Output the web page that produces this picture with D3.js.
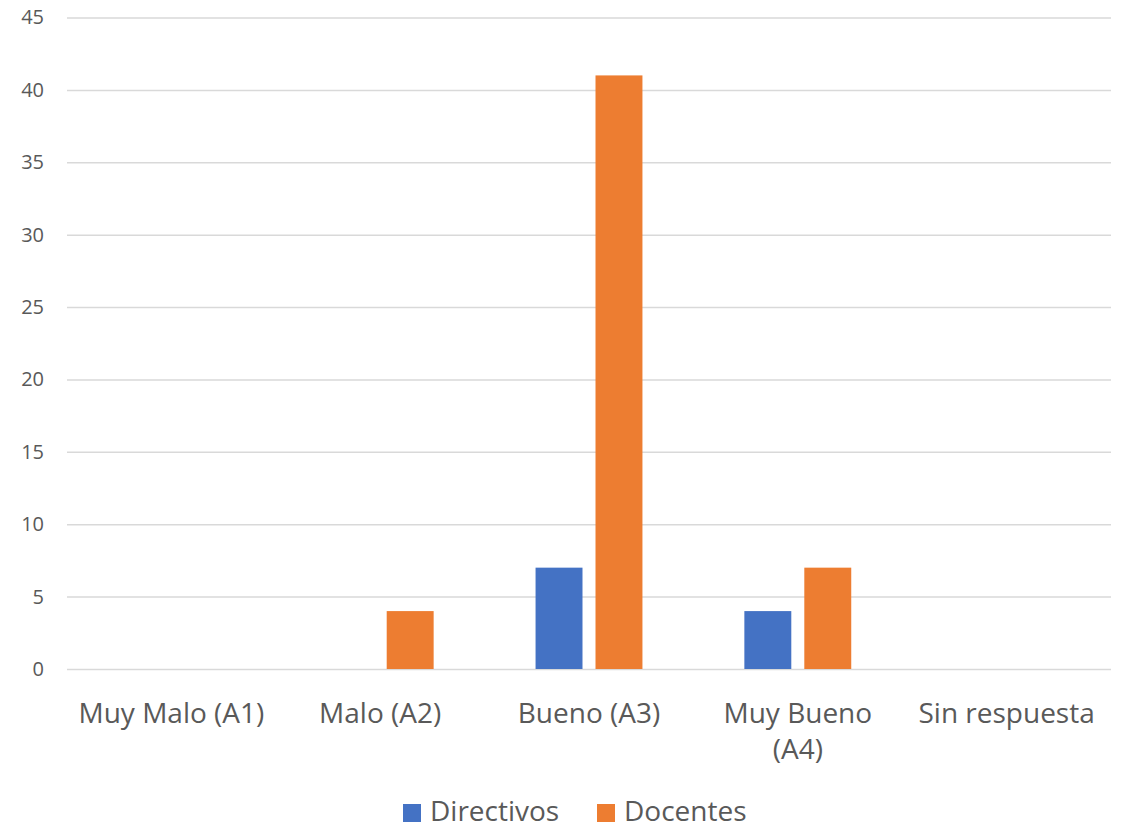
<!DOCTYPE html>
<html><head><meta charset="utf-8">
<script src="https://cdn.jsdelivr.net/npm/d3@7"></script>
<style>body{margin:0;background:#fff}svg{display:block}</style>
</head><body>
<svg id="c" width="1125" height="830"></svg>
<script>
const categories = ["Muy Malo (A1)", "Malo (A2)", "Bueno (A3)", "Muy Bueno (A4)", "Sin respuesta"];
const seriesNames = ["Directivos", "Docentes"];
const directivos = [0, 0, 7, 4, 0];
const docentes = [0, 4, 41, 7, 0];
const yTicks = [0, 5, 10, 15, 20, 25, 30, 35, 40, 45];
const colors = ["#4472C4", "#ED7D31"];

const svg = d3.select("#c");
const font = "'Open Sans', sans-serif";
const m = {l: 67, r: 1111, t: 17.5, b: 669};
const x = d3.scaleBand().domain(categories).range([m.l, m.r]);
const x1 = d3.scaleBand().domain(seriesNames).range([0, x.bandwidth()]).paddingInner(0.217).paddingOuter(0.85);
const y = d3.scaleLinear().domain([0, 45]).range([m.b, m.t]);

const yAxis = d3.axisLeft(y).tickValues(yTicks).tickSize(-(m.r - m.l)).tickPadding(23);
const gy = svg.append("g").attr("transform", `translate(${m.l},0)`).call(yAxis);
gy.select(".domain").remove();
gy.selectAll(".tick line").attr("stroke", "#d9d9d9").attr("stroke-width", 1.5);
gy.selectAll(".tick text").attr("fill", "#595959").style("font-family", font).style("font-size", "20px");

const data = categories.map((c, i) => ({c, vals: [directivos[i], docentes[i]]}));
const g = svg.append("g");
data.forEach(d => {
  d.vals.forEach((v, j) => {
    if (v <= 0) return;
    g.append("rect")
      .attr("x", x(d.c) + x1(seriesNames[j]))
      .attr("width", x1.bandwidth())
      .attr("y", y(v))
      .attr("height", y(0) - y(v))
      .attr("fill", colors[j]);
  });
});

const xAxis = d3.axisBottom(x).tickSize(0).tickPadding(0);
const gx = svg.append("g").attr("transform", `translate(0,${m.b})`).call(xAxis);
gx.select(".domain").remove();
gx.selectAll(".tick text").remove();
gx.selectAll(".tick").each(function(d) {
  const t = d3.select(this).append("text").attr("fill", "#595959").attr("text-anchor", "middle")
    .style("font-family", font).style("font-size", "28px");
  const lines = d === "Muy Bueno (A4)" ? ["Muy Bueno", "(A4)"] : [d];
  lines.forEach((l, i) => t.append("tspan").attr("x", 0).attr("y", 54 + i * 36).text(l));
});

const leg = svg.append("g");
const legX = [403, 597];
seriesNames.forEach((s, i) => {
  leg.append("rect").attr("x", legX[i]).attr("y", 804).attr("width", 18).attr("height", 18).attr("fill", colors[i]);
  leg.append("text").attr("x", legX[i] + 27).attr("y", 821).attr("fill", "#595959")
    .style("font-family", font).style("font-size", "28px").text(s);
});
</script>
</body></html>
